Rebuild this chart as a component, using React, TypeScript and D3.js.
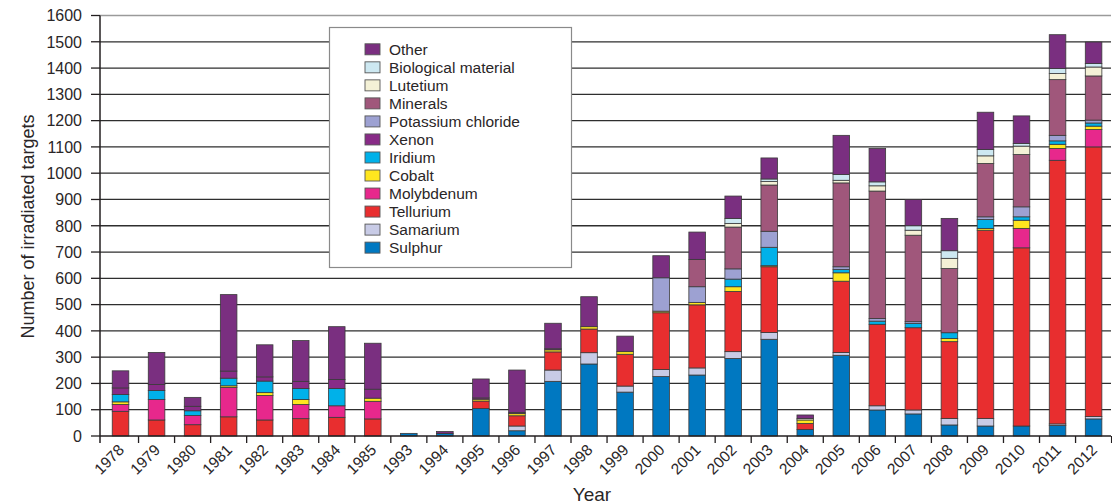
import React from "react";
import * as d3 from "d3";

const years = ["1978","1979","1980","1981","1982","1983","1984","1985","1993","1994","1995","1996","1997","1998","1999","2000","2001","2002","2003","2004","2005","2006","2007","2008","2009","2010","2011","2012"];

const sulphur     = [0,0,0,0,0,0,0,0,10,10,105,20,208,274,167,226,232,295,368,25,307,99,84,42,38,38,40,65];
const samarium    = [0,0,0,0,0,0,0,0,0,0,0,18,43,43,23,27,27,26,26,0,11,16,15,25,29,0,6,9];
const tellurium   = [94,61,43,73,61,66,71,65,0,0,28,39,69,90,121,216,240,229,250,23,271,310,313,292,716,678,1003,1026];
const molybdenum  = [26,78,35,112,93,54,44,67,0,0,0,0,0,0,0,0,0,0,0,0,0,0,0,0,0,74,45,66];
const cobalt      = [10,0,0,6,11,19,0,12,0,0,7,8,8,9,10,6,9,18,4,13,32,0,0,12,7,31,16,13];
const iridium     = [28,34,18,29,44,42,66,0,0,0,0,0,0,0,0,0,0,29,70,0,13,12,16,22,34,13,13,12];
const xenon       = [25,23,17,27,16,27,34,34,0,0,5,4,4,0,0,0,0,0,0,0,0,0,0,0,0,0,0,0];
const potassium   = [0,0,0,0,0,0,0,0,0,0,0,0,0,0,0,127,60,39,61,0,10,10,7,0,10,38,21,11];
const minerals    = [0,0,0,0,0,0,0,0,0,0,0,0,0,0,0,0,104,159,176,0,319,485,329,244,203,199,212,168];
const lutetium    = [0,0,0,0,0,0,0,0,0,0,0,0,0,0,0,0,0,14,13,6,10,20,19,39,29,32,23,34];
const biological  = [0,0,0,0,0,0,0,0,0,0,0,0,0,0,0,0,0,19,10,0,22,15,17,29,24,10,19,13];
const other       = [65,122,34,291,122,155,201,175,0,7,72,162,97,114,59,84,104,85,80,13,149,127,100,123,142,105,129,82];

const seriesNames = ["Sulphur","Samarium","Tellurium","Molybdenum","Cobalt","Iridium","Xenon","Potassium chloride","Minerals","Lutetium","Biological material","Other"];
const seriesValues = [sulphur,samarium,tellurium,molybdenum,cobalt,iridium,xenon,potassium,minerals,lutetium,biological,other];
const seriesColors = ["#0078c1","#c8cbe6","#e82e2f","#e7288c","#ffe61f","#00b1e9","#882b87","#9da1d2","#a0577b","#f4f1d6","#cde8f1","#7a2f80"];

const yTicks = d3.range(0, 1700, 100);

export default function App() {
  const W = 1112, H = 504;
  const x = d3.scaleBand<string>().domain(years).range([102.5, 1111.6]).paddingInner(0.54).paddingOuter(0.27);
  const y = d3.scaleLinear().domain([0, 1600]).range([436, 15.5]);
  const rows = years.map((yr, i) => {
    const r: any = { year: yr };
    seriesNames.forEach((k, j) => (r[k] = seriesValues[j][i]));
    return r;
  });
  const stacked = d3.stack<any>().keys(seriesNames)(rows);
  const step = x.step();
  const x0 = 100, x1 = 1111;
  const font = "'Liberation Sans', Arial, sans-serif";
  const textCol = "#2a2627";
  const legendItems = seriesNames.map((n, i) => ({ n, c: seriesColors[i] })).reverse();

  return (
    <svg width={W} height={H} style={{ position: "absolute", left: 0, top: 0, background: "#fff" }} fontFamily={font}>
      {yTicks.filter((t) => t > 0).map((t) => (
        <line key={"g" + t} x1={x0} x2={x1} y1={y(t)} y2={y(t)} stroke={t === 1600 ? "#9a9a9a" : "#2e2e2e"} strokeWidth={1.3} />
      ))}
      {/* legend */}
      <rect x={329.5} y={27.5} width={242} height={240} fill="#fff" stroke="#8a8a8a" strokeWidth={1.2} />
      {legendItems.map((it, i) => {
        const cy = 49.3 + i * 18.03;
        return (
          <g key={it.n}>
            <rect x={365} y={cy - 5.5} width={15} height={11} fill={it.c} stroke="#555" strokeWidth={0.9} />
            <text x={389} y={cy} dy="0.36em" fontSize={15.5} fill={textCol}>{it.n}</text>
          </g>
        );
      })}
      {stacked.map((s, j) => (
        <g key={s.key} fill={seriesColors[j]} stroke="#3a3a3a" strokeWidth={0.8}>
          {s.map((d, i) =>
            d[1] - d[0] > 0 ? (
              <rect key={i} x={x(years[i])} y={y(d[1])} width={x.bandwidth()} height={y(d[0]) - y(d[1])} />
            ) : null
          )}
        </g>
      ))}
      {/* axes */}
      <line x1={x0} x2={x0} y1={15.5} y2={443} stroke="#231f20" strokeWidth={1.5} />
      <line x1={x0} x2={x1} y1={436} y2={436} stroke="#231f20" strokeWidth={1.5} />
      {yTicks.map((t) => (
        <g key={"yt" + t}>
          <line x1={91} x2={x0} y1={y(t)} y2={y(t)} stroke="#231f20" strokeWidth={1.3} />
          <text x={82} y={y(t)} dy="0.36em" textAnchor="end" fontSize={16} fill={textCol}>{t}</text>
        </g>
      ))}
      {years.map((yr, i) => {
        const edge = (x(yr) as number) + x.bandwidth() + (step - x.bandwidth()) / 2;
        const cx = (x(yr) as number) + x.bandwidth() / 2;
        return (
          <g key={"xt" + yr}>
            <line x1={edge} x2={edge} y1={436} y2={443} stroke="#231f20" strokeWidth={1.3} />
            <text transform={`translate(${cx + 4.5},${451}) rotate(-45)`} textAnchor="end" fontSize={15.5} fill={textCol}>{yr}</text>
          </g>
        );
      })}
      <text transform="translate(34,226.5) rotate(-90)" textAnchor="middle" fontSize={18} fill={textCol}>Number of irradiated targets</text>
      <text x={592} y={501} textAnchor="middle" fontSize={19} fill={textCol}>Year</text>
    </svg>
  );
}
